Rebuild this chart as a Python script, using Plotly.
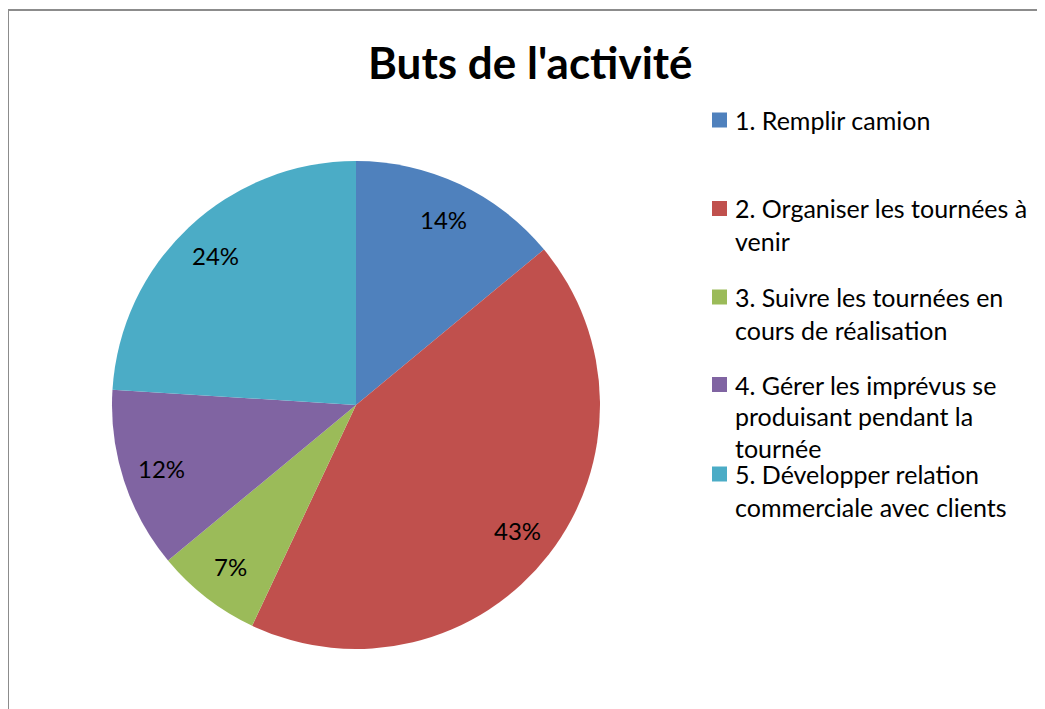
import math
import plotly.graph_objects as go

# ---- data ----
categories = [
    "1. Remplir camion",
    "2. Organiser les tournées à venir",
    "3. Suivre les tournées en cours de réalisation",
    "4. Gérer les imprévus se produisant pendant la tournée",
    "5. Développer relation commerciale avec clients",
]
legend_lines = [
    ["1. Remplir camion"],
    ["2. Organiser les tournées à", "venir"],
    ["3. Suivre les tournées en", "cours de réalisation"],
    ["4. Gérer les imprévus se", "produisant pendant la", "tournée"],
    ["5. Développer relation", "commerciale avec clients"],
]
values = [14, 43, 7, 12, 24]
colors = ["#4F81BD", "#C0504D", "#9BBB59", "#8064A2", "#4BACC6"]
title_text = "Buts de l'activité"

# ---- layout geometry (pixels in the browser window) ----
OFF = 8                      # default body margin of the page
W, H = 1045 - OFF, 709 - OFF
cx, cy, R = 356, 405, 244
FONT = "Lato"


def px2x(px):
    return (px - OFF) / W


def py2y(py):
    return 1 - (py - OFF) / H


fig = go.Figure()
fig.add_trace(go.Pie(
    labels=categories,
    values=values,
    marker=dict(colors=colors, line=dict(width=0)),
    sort=False,
    direction="clockwise",
    rotation=0,
    textinfo="none",
    hoverinfo="label+percent",
    showlegend=False,
    domain=dict(x=[px2x(cx - R), px2x(cx + R)], y=[py2y(cy + R), py2y(cy - R)]),
))

annotations = []
# percentage labels placed at mid-angle of each slice
total = sum(values)
cum = 0
for v in values:
    mid = (cum + v / 2) / total * 2 * math.pi
    cum += v
    rr = 0.84 * R
    px = cx + rr * math.sin(mid)
    py = cy - rr * math.cos(mid)
    annotations.append(dict(
        x=px2x(px), y=py2y(py), xref="paper", yref="paper",
        text=f"{round(v / total * 100)}%", showarrow=False,
        xanchor="center", yanchor="middle",
        font=dict(family=FONT, size=24, color="#000000"),
    ))

# title
annotations.append(dict(
    x=px2x(530), y=py2y(62), xref="paper", yref="paper",
    text=f"<b>{title_text}</b>", showarrow=False,
    xanchor="center", yanchor="middle",
    font=dict(family=FONT, size=44, color="#000000"),
))

# custom legend
shapes = []
item_y = [120, 208.5, 297, 384.5, 474]
line_h = [33, 33, 33, 31.5, 33]
for i, lines in enumerate(legend_lines):
    yc = item_y[i]
    shapes.append(dict(
        type="rect", xref="paper", yref="paper",
        x0=px2x(712), x1=px2x(727), y0=py2y(yc - 7.5), y1=py2y(yc + 7.5),
        fillcolor=colors[i], line=dict(width=0),
    ))
    for k, t in enumerate(lines):
        annotations.append(dict(
            x=px2x(733), y=py2y(yc + k * line_h[i]), xref="paper", yref="paper",
            text=t, showarrow=False, xanchor="left", yanchor="middle",
            font=dict(family=FONT, size=25, color="#000000"),
        ))

# chart frame (left and top edges visible)
shapes.append(dict(
    type="rect", xref="paper", yref="paper",
    x0=px2x(8), x1=1.05, y0=-0.05, y1=py2y(10),
    line=dict(color="#8c8c8c", width=2), fillcolor="rgba(0,0,0,0)", layer="below",
))

fig.update_layout(
    width=W, height=H,
    margin=dict(l=0, r=0, t=0, b=0),
    paper_bgcolor="white", plot_bgcolor="white",
    annotations=annotations, shapes=shapes,
    showlegend=False,
)

fig.write_html("out.html")
